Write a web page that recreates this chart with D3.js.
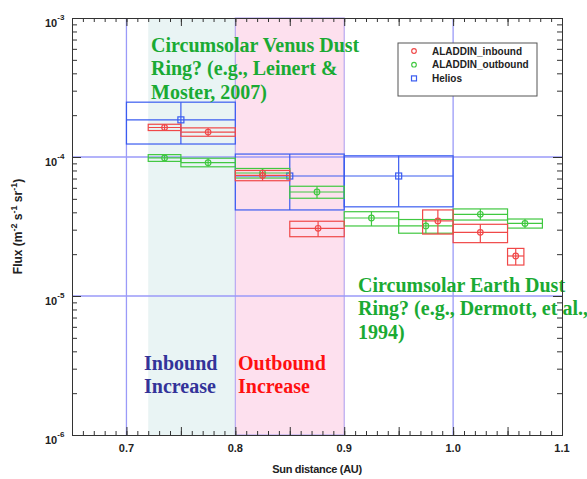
<!DOCTYPE html>
<html>
<head>
<meta charset="utf-8">
<script src="https://cdn.jsdelivr.net/npm/d3@7"></script>
<style>
  body { margin: 0; background: #fff; }
  svg { display: block; }
  .ax text { font-family: "Liberation Sans", Arial, sans-serif; font-weight: bold; font-size: 11px; fill: #222; }
  .ax path, .ax line { stroke: #333; }
  .note { font-family: "Liberation Serif", "Times New Roman", serif; font-weight: bold; font-size: 20px; }
</style>
</head>
<body>
<svg id="chart" width="587" height="479"></svg>
<script>
// ALADDIN inbound (red circles): bin edges, centre, flux and error range
const inboundBinLo = [0.72, 0.75, 0.80, 0.85, 0.972, 1.00, 1.05]
const inboundBinHi = [0.75, 0.80, 0.85, 0.90, 1.00, 1.05, 1.065]
const inboundX = [0.735, 0.775, 0.825, 0.876, 0.986, 1.025, 1.0575]
const inboundFlux = [1.63e-4, 1.51e-4, 7.37e-5, 3.07e-5, 3.47e-5, 2.87e-5, 1.94e-5]
const inboundLow = [1.55e-4, 1.41e-4, 6.75e-5, 2.67e-5, 2.79e-5, 2.42e-5, 1.67e-5]
const inboundHigh = [1.72e-4, 1.62e-4, 8.0e-5, 3.45e-5, 4.16e-5, 3.28e-5, 2.2e-5]

// ALADDIN outbound (green circles)
const outboundBinLo = [0.72, 0.75, 0.80, 0.85, 0.90, 0.95, 1.00, 1.05]
const outboundBinHi = [0.75, 0.80, 0.85, 0.90, 0.95, 1.00, 1.05, 1.082]
const outboundX = [0.735, 0.775, 0.825, 0.875, 0.925, 0.975, 1.025, 1.066]
const outboundFlux = [9.85e-5, 9.1e-5, 7.67e-5, 5.6e-5, 3.64e-5, 3.19e-5, 3.87e-5, 3.33e-5]
const outboundLow = [9.3e-5, 8.5e-5, 7.06e-5, 5.05e-5, 3.19e-5, 2.83e-5, 3.52e-5, 3.08e-5]
const outboundHigh = [1.04e-4, 9.8e-5, 8.27e-5, 6.16e-5, 4.04e-5, 3.55e-5, 4.23e-5, 3.58e-5]

// Helios (blue squares)
const heliosBinLo = [0.70, 0.80, 0.90]
const heliosBinHi = [0.80, 0.90, 1.00]
const heliosX = [0.75, 0.85, 0.95]
const heliosFlux = [1.85e-4, 7.3e-5, 7.3e-5]
const heliosLow = [1.24e-4, 4.16e-5, 4.38e-5]
const heliosHigh = [2.48e-4, 1.05e-4, 1.02e-4]

const legendNames = ['ALADDIN_inbound', 'ALADDIN_outbound', 'Helios']
const xTickLabels = [0.7, 0.8, 0.9, 1.0, 1.1]
const yTickExps = [-3, -4, -5, -6]
const gridX = [0.7, 1.0]
const gridY = [1e-4, 1e-5]
const inboundBand = [0.72, 0.8]
const outboundBand = [0.8, 0.9]

const margin = { top: 18, right: 25, bottom: 44, left: 72 }
const width = 587 - margin.left - margin.right
const height = 479 - margin.top - margin.bottom

const svg = d3.select('#chart')

const xScale = d3.scaleLinear()
  .domain([0.65, 1.1])
  .range([margin.left, margin.left + width])

const yScale = d3.scaleLog()
  .domain([1e-6, 1e-3])
  .range([margin.top + height, margin.top])

// shaded bands
svg.append('rect')
  .attr('x', xScale(inboundBand[0]))
  .attr('y', margin.top)
  .attr('width', xScale(inboundBand[1]) - xScale(inboundBand[0]))
  .attr('height', height)
  .attr('fill', '#e9f4f4')

svg.append('rect')
  .attr('x', xScale(outboundBand[0]))
  .attr('y', margin.top)
  .attr('width', xScale(outboundBand[1]) - xScale(outboundBand[0]))
  .attr('height', height)
  .attr('fill', '#fde0ee')
  .attr('stroke', '#b8a8f0')
  .attr('stroke-width', 1.2)

// grid lines
svg.append('g')
  .selectAll('line')
  .data(gridX)
  .enter()
  .append('line')
  .attr('x1', d => xScale(d))
  .attr('x2', d => xScale(d))
  .attr('y1', margin.top)
  .attr('y2', margin.top + height)
  .attr('stroke', '#9a9af8')
  .attr('stroke-width', 1.3)

svg.append('g')
  .selectAll('line')
  .data(gridY)
  .enter()
  .append('line')
  .attr('x1', margin.left)
  .attr('x2', margin.left + width)
  .attr('y1', d => yScale(d))
  .attr('y2', d => yScale(d))
  .attr('stroke', '#9a9af8')
  .attr('stroke-width', 1.3)

// box + cross for each measurement
const makeRows = (lo, hi, xs, flux, low, high) =>
  xs.map((x, i) => ({ lo: lo[i], hi: hi[i], x: x, y: flux[i], yLo: low[i], yHi: high[i] }))

const drawSeries = (rows, color, shape) => {
  const g = svg.append('g')
    .attr('stroke', color)
    .attr('fill', 'none')
    .attr('stroke-width', 1.2)

  const item = g.selectAll('g')
    .data(rows)
    .enter()
    .append('g')

  item.append('rect')
    .attr('x', d => xScale(d.lo))
    .attr('y', d => yScale(d.yHi))
    .attr('width', d => xScale(d.hi) - xScale(d.lo))
    .attr('height', d => yScale(d.yLo) - yScale(d.yHi))

  item.append('line')
    .attr('x1', d => xScale(d.lo))
    .attr('x2', d => xScale(d.hi))
    .attr('y1', d => yScale(d.y))
    .attr('y2', d => yScale(d.y))

  item.append('line')
    .attr('x1', d => xScale(d.x))
    .attr('x2', d => xScale(d.x))
    .attr('y1', d => yScale(d.yHi))
    .attr('y2', d => yScale(d.yLo))

  if (shape === 'square') {
    item.append('rect')
      .attr('x', d => xScale(d.x) - 3)
      .attr('y', d => yScale(d.y) - 3)
      .attr('width', 6)
      .attr('height', 6)
  } else {
    item.append('circle')
      .attr('cx', d => xScale(d.x))
      .attr('cy', d => yScale(d.y))
      .attr('r', 2.8)
  }
}

const colors = ['#f04848', '#40c840', '#3a5cf0']

drawSeries(makeRows(heliosBinLo, heliosBinHi, heliosX, heliosFlux, heliosLow, heliosHigh), colors[2], 'square')
drawSeries(makeRows(outboundBinLo, outboundBinHi, outboundX, outboundFlux, outboundLow, outboundHigh), colors[1], 'circle')
drawSeries(makeRows(inboundBinLo, inboundBinHi, inboundX, inboundFlux, inboundLow, inboundHigh), colors[0], 'circle')

// annotations
const addNote = (lines, x, y, color) => {
  const t = svg.append('text')
    .attr('class', 'note')
    .attr('fill', color)
  lines.forEach((line, i) => {
    t.append('tspan')
      .attr('x', x)
      .attr('y', y + i * 23.3)
      .text(line)
  })
}

addNote(['Circumsolar Venus Dust', 'Ring? (e.g., Leinert &', 'Moster, 2007)'], 151, 52, '#1aaa33')
addNote(['Circumsolar Earth Dust', 'Ring? (e.g., Dermott, et al.,', '1994)'], 358, 292, '#1aaa33')
addNote(['Inbound', 'Increase'], 144, 370, '#333399')
addNote(['Outbound', 'Increase'], 238, 370, '#ff1010')

// legend
const legend = svg.append('g')
legend.append('rect')
  .attr('x', 398)
  .attr('y', 43)
  .attr('width', 139)
  .attr('height', 53)
  .attr('fill', '#fff')
  .attr('stroke', '#555')
  .attr('stroke-width', 1)

const legendRow = legend.selectAll('g')
  .data(legendNames)
  .enter()
  .append('g')
  .attr('transform', (d, i) => `translate(414, ${51 + i * 13.7})`)

legendRow.filter((d, i) => i < 2)
  .append('circle')
  .attr('r', 2.3)
  .attr('fill', 'none')
  .attr('stroke', (d, i) => colors[i])
  .attr('stroke-width', 1.2)

legendRow.filter((d, i) => i === 2)
  .append('rect')
  .attr('x', -2.5)
  .attr('y', -2.5)
  .attr('width', 5)
  .attr('height', 5)
  .attr('fill', 'none')
  .attr('stroke', colors[2])
  .attr('stroke-width', 1.2)

legendRow.append('text')
  .attr('x', 18)
  .attr('dy', '0.35em')
  .attr('font-family', '"Liberation Sans", Arial, sans-serif')
  .attr('font-weight', 'bold')
  .attr('font-size', '10px')
  .attr('fill', '#222')
  .text(d => d)

// axes with inward ticks
const xMinor = d3.range(66, 111).map(d => d / 100)
const xMajor = d3.range(13, 23).map(d => d * 0.05)
const yMinor = []
yTickExps.slice(1).forEach(e => {
  for (let m = 2; m <= 9; m++) yMinor.push(m * Math.pow(10, e))
})
const yMajor = yTickExps.map(e => Math.pow(10, e))

const addAxis = (axis, transform) => {
  svg.append('g')
    .attr('class', 'ax')
    .attr('transform', transform)
    .call(axis)
}

addAxis(d3.axisBottom(xScale).tickValues(xMinor).tickSize(-4).tickFormat(''), `translate(0, ${margin.top + height})`)
addAxis(d3.axisBottom(xScale).tickValues(xMajor).tickSize(-8).tickFormat(''), `translate(0, ${margin.top + height})`)
addAxis(d3.axisTop(xScale).tickValues(xMinor).tickSize(-4).tickFormat(''), `translate(0, ${margin.top})`)
addAxis(d3.axisTop(xScale).tickValues(xMajor).tickSize(-8).tickFormat(''), `translate(0, ${margin.top})`)
addAxis(d3.axisLeft(yScale).tickValues(yMinor).tickSize(-5).tickFormat(''), `translate(${margin.left}, 0)`)
addAxis(d3.axisLeft(yScale).tickValues(yMajor).tickSize(-9).tickFormat(''), `translate(${margin.left}, 0)`)
addAxis(d3.axisRight(yScale).tickValues(yMinor).tickSize(-5).tickFormat(''), `translate(${margin.left + width}, 0)`)
addAxis(d3.axisRight(yScale).tickValues(yMajor).tickSize(-9).tickFormat(''), `translate(${margin.left + width}, 0)`)

svg.append('g')
  .attr('class', 'ax')
  .selectAll('text')
  .data(xTickLabels)
  .enter()
  .append('text')
  .attr('x', d => xScale(d))
  .attr('y', margin.top + height + 17)
  .attr('text-anchor', 'middle')
  .text(d => d.toFixed(1))

const yLabels = svg.append('g')
  .attr('class', 'ax')
  .selectAll('text')
  .data(yTickExps)
  .enter()
  .append('text')
  .attr('x', 45)
  .attr('y', d => yScale(Math.pow(10, d)) + 9)

yLabels.append('tspan').text('10')
yLabels.append('tspan')
  .attr('dy', -7)
  .attr('font-size', '8px')
  .text(d => '-' + Math.abs(d))

svg.append('text')
  .attr('x', xScale(0.875))
  .attr('y', 473)
  .attr('text-anchor', 'middle')
  .attr('font-family', '"Liberation Sans", Arial, sans-serif')
  .attr('font-weight', 'bold')
  .attr('font-size', '11px')
  .attr('letter-spacing', '-0.3px')
  .attr('fill', '#222')
  .text('Sun distance (AU)')

const yTitle = svg.append('text')
  .attr('transform', `translate(22, ${yScale(Math.pow(10, -4.5))}) rotate(-90)`)
  .attr('text-anchor', 'middle')
  .attr('font-family', '"Liberation Sans", Arial, sans-serif')
  .attr('font-weight', 'bold')
  .attr('font-size', '12px')
  .attr('fill', '#222')

const titleParts = [['Flux (m', 0], ['-2', 1], [' s', 0], ['-1', 1], [' sr', 0], ['-1', 1], [')', 0]]
let raised = false
titleParts.forEach(([s, sup]) => {
  const ts = yTitle.append('tspan').text(s)
  if (sup && !raised) { ts.attr('dy', -5).attr('font-size', '9px'); raised = true }
  else if (sup) { ts.attr('font-size', '9px') }
  else if (raised) { ts.attr('dy', 5); raised = false }
})
</script>
</body>
</html>
